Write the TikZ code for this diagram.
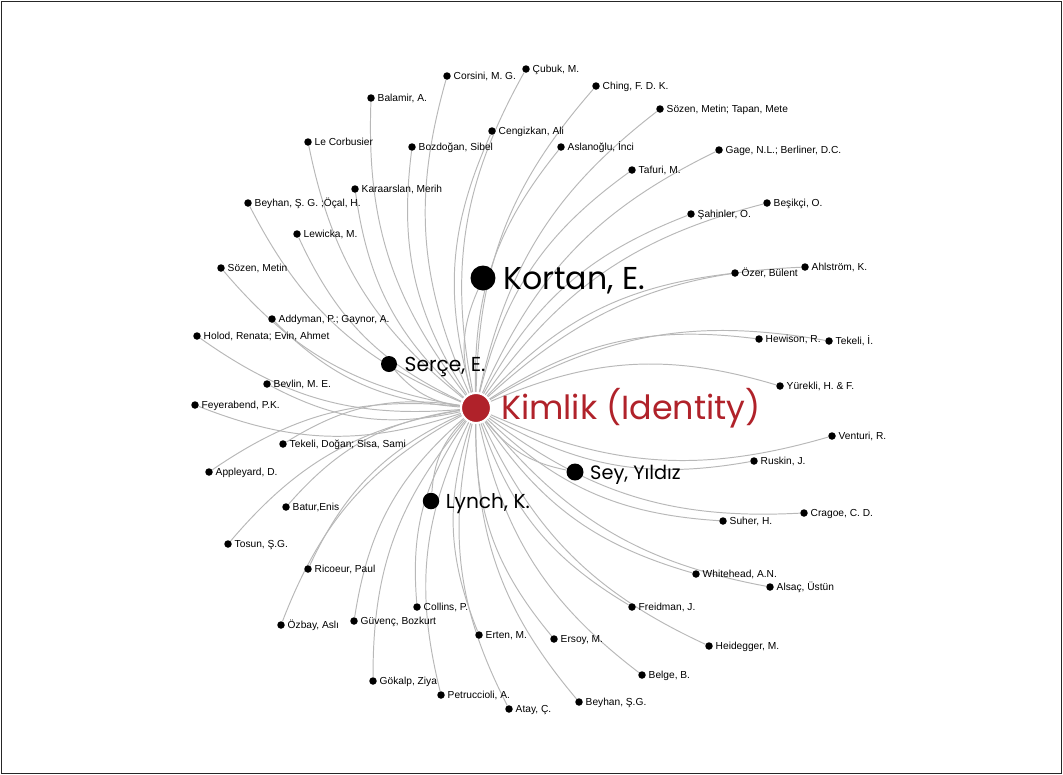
\documentclass[tikz,border=0pt]{standalone}
\usepackage{fontspec}
\setmainfont{Liberation Sans}
\newfontfamily\hubfont{Poppins}
\usetikzlibrary{positioning,backgrounds}
\definecolor{kimred}{HTML}{B0222A}
\definecolor{edgegray}{HTML}{B8B8B8}

\begin{document}
\begin{tikzpicture}[x=0.02cm, y=-0.02cm,
    dot/.style={circle, fill=black, inner sep=0pt, minimum size=0.15cm},
    hub/.style={circle, fill=black, inner sep=0pt},
    lbl/.style={font=\fontsize{5.8}{7}\selectfont, inner sep=0pt, text height=4.2pt, text depth=0pt},
    hublbl/.style={font=\hubfont\fontsize{11.5}{13}\selectfont, inner sep=0pt, text height=8pt, text depth=0pt},
    link/.style={edgegray, line width=0.55pt}]

    \useasboundingbox (0,0) rectangle (1063,775);
    \draw[black!85, line width=0.8pt] (1.5,1.5) rectangle (1061.5,773.5);

    % centre of the star
    \node[circle, fill=kimred, draw=white, line width=1.2pt, minimum size=0.6cm, inner sep=0pt] (kimlik) at (476,408) {};
    \node[hublbl, font=\hubfont\fontsize{19}{22}\selectfont, text height=13.3pt, text=kimred, right=5pt of kimlik] (kimlik-t) {Kimlik (Identity)};

    % the four big ones
    \node[hub, minimum size=0.5cm] (kortan) at (483,278) {};
    \node[hublbl, font=\hubfont\fontsize{18}{20}\selectfont, text height=12.6pt, right=4pt of kortan] (kortan-t) {Kortan, E.};
    \node[hub, minimum size=0.32cm] (serce) at (389,364) {};
    \node[hublbl, right=4pt of serce] (serce-t) {Serçe, E.};
    \node[hub, minimum size=0.33cm] (lynch) at (431,501) {};
    \node[hublbl, right=3.4pt of lynch] (lynch-t) {Lynch, K.};
    \node[hub, minimum size=0.34cm] (sey) at (575,472) {};
    \node[hublbl, font=\hubfont\fontsize{11}{13}\selectfont, right=3.4pt of sey] (sey-t) {Sey, Yıldız};

    \begin{scope}[on background layer]
        \draw[link] (kimlik) to[bend left=20] (kortan);
        \draw[link] (kimlik) to[bend left=20] (serce);
        \draw[link] (kimlik) to[bend right=20] (lynch);
        \draw[link] (kimlik) to[bend right=20] (sey);
    \end{scope}

    % everybody else, edges bow upwards
    \foreach \x/\y/\nm/\txt in {
        447/76/corsini/{Corsini, M. G.}, 526/69/cubuk/{Çubuk, M.},
        371/98/balamir/{Balamir, A.}, 308/142/lecorb/{Le Corbusier},
        412/147/bozdogan/{Bozdoğan, Sibel}, 492/131/cengizkan/{Cengizkan, Ali},
        355/189/karaarslan/{Karaarslan, Merih}, 248/203/beyhanoc/{Beyhan, Ş. G. ;Öçal, H.},
        297/234/lewicka/{Lewicka, M.}, 596/86/ching/{Ching, F. D. K.},
        660/109/sozentapan/{Sözen, Metin; Tapan, Mete}, 561/147/aslanoglu/{Aslanoğlu, İnci},
        719/150/gage/{Gage, N.L.; Berliner, D.C.}, 632/170/tafuri/{Tafuri, M.},
        767/203/besikci/{Beşikçi, O.}, 691/214/sahinler/{Şahinler, O.},
        221/268/sozen/{Sözen, Metin}, 272/319/addyman/{Addyman, P.; Gaynor, A.},
        197/336/holod/{Holod, Renata; Evin, Ahmet}, 267/384/bevlin/{Bevlin, M. E.},
        195/405/feyerabend/{Feyerabend, P.K.}, 735/273/ozer/{Özer, Bülent},
        805/267/ahlstrom/{Ahlström, K.}, 759/339/hewison/{Hewison, R.},
        829/341/tekelii/{Tekeli, İ.}, 780/386/yurekli/{Yürekli, H. \& F.},
        283/444/tekelid/{Tekeli, Doğan; Sisa, Sami}, 209/472/appleyard/{Appleyard, D.},
        286/507/batur/{Batur,Enis}, 228/544/tosun/{Tosun, Ş.G.},
        308/569/ricoeur/{Ricoeur, Paul}, 832/436/venturi/{Venturi, R.},
        754/461/ruskin/{Ruskin, J.}, 804/513/cragoe/{Cragoe, C. D.},
        723/521/suher/{Suher, H.}, 696/574/whitehead/{Whitehead, A.N.},
        770/587/alsac/{Alsaç, Üstün}, 417/607/collins/{Collins, P.},
        281/625/ozbay/{Özbay, Aslı}, 354/621/guvenc/{Güvenç, Bozkurt},
        479/635/erten/{Erten, M.}, 373/681/gokalp/{Gökalp, Ziya},
        441/695/petruccioli/{Petruccioli, A.}, 509/709/atay/{Atay, Ç.},
        632/607/freidman/{Freidman, J.}, 554/639/ersoy/{Ersoy, M.},
        709/646/heidegger/{Heidegger, M.}, 642/675/belge/{Belge, B.},
        579/702/beyhansg/{Beyhan, Ş.G.}}{
        \node[dot] (\nm) at (\x,\y) {};
        \node[lbl, right=1.3pt of \nm] (\nm-t) {\txt};
        \pgfmathsetmacro\bnd{\y<408 ? 20 : -20}
        \begin{scope}[on background layer]
            \draw[link] (kimlik) to[bend left=\bnd] (\nm);
        \end{scope}
    }
\end{tikzpicture}
\end{document}
